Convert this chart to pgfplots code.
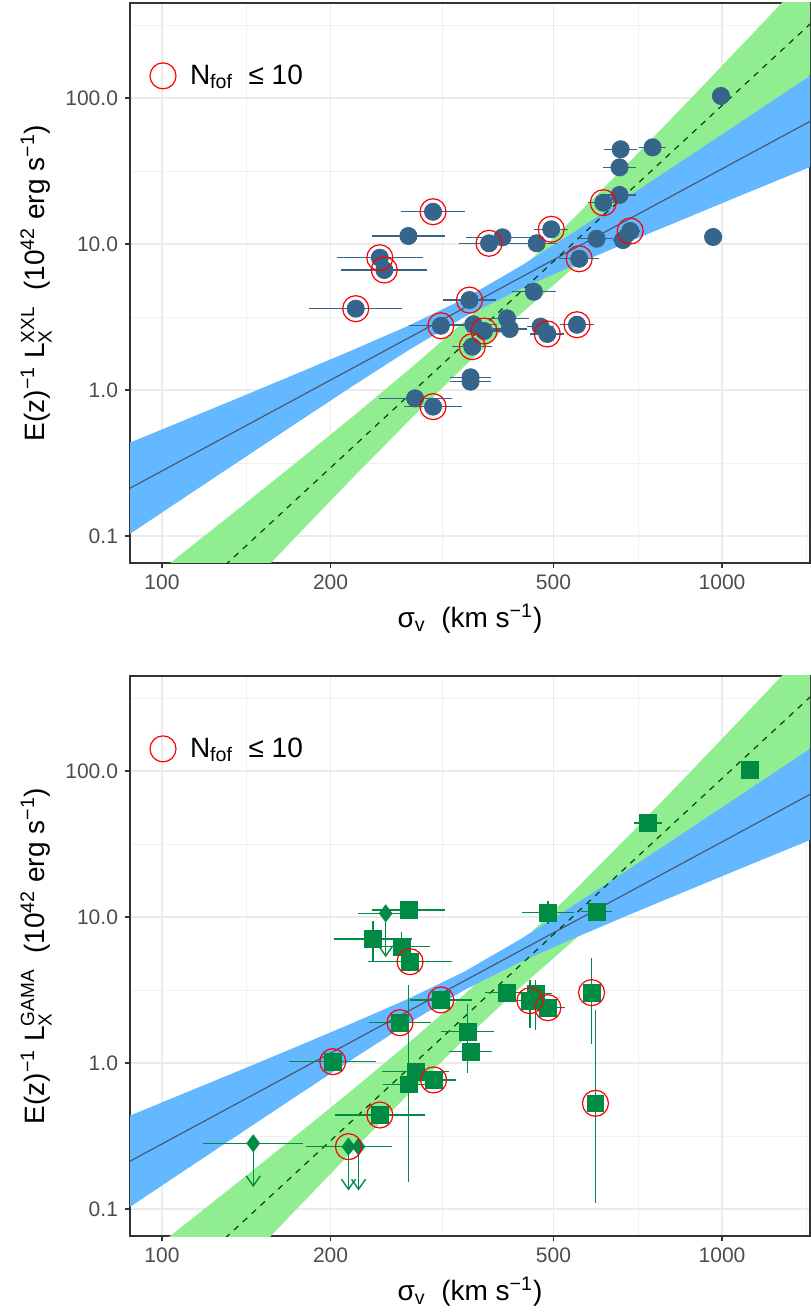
\documentclass[border=0pt]{standalone}
\usepackage{pgfplots}
\pgfplotsset{compat=1.18}
\usepackage{pgfplotstable}
\usepackage{fontspec}
\setmainfont{Liberation Sans}
\usetikzlibrary{arrows.meta}
\definecolor{ptblue}{RGB}{54,100,139}
\definecolor{bandblue}{RGB}{99,184,255}
\definecolor{bandgreen}{RGB}{144,238,144}
\definecolor{ptgreen}{RGB}{0,139,69}
\definecolor{lineblue}{RGB}{70,90,120}

\pgfplotstableread{
x y ex
2.819 1.649 0.030
2.876 1.662 0.024
2.817 1.525 0.029
2.817 1.336 0.029
2.788 1.283 0.027
2.484 1.221 0.057
2.440 1.055 0.065
2.608 1.046 0.065
2.584 1.005 0.054
2.669 1.005 0.036
2.695 1.101 0.030
2.776 1.036 0.030
2.823 1.027 0.018
2.836 1.089 0.018
2.389 0.906 0.077
2.397 0.822 0.077
2.745 0.899 0.036
2.346 0.557 0.083
2.549 0.616 0.048
2.664 0.673 0.039
2.498 0.440 0.057
2.556 0.450 0.042
2.575 0.404 0.030
2.616 0.491 0.039
2.621 0.418 0.030
2.676 0.434 0.024
2.688 0.384 0.030
2.741 0.447 0.030
2.554 0.297 0.036
2.551 0.087 0.036
2.551 0.057 0.036
2.452 -0.057 0.065
2.484 -0.114 0.051
2.998 2.014 0.015
2.984 1.048 0.010
}\xxl

\pgfplotstableread{
x y ex eym eyp
2.4405 1.048 0.065 0 0
2.377 0.849 0.07 0.155 0.126
2.428 0.797 0.05 0.1 0.1
2.443 0.694 0.075 0 0
2.498 0.432 0.055 0.04 0.04
2.616 0.482 0.04 0 0
2.667 0.477 0.03 0.25 0.09
2.657 0.427 0.03 0.19 0.14
2.689 0.379 0.03 0 0
2.546 0.214 0.047 0.28 0.19
2.551 0.077 0.038 0 0
2.425 0.276 0.055 0 0
2.305 0.009 0.078 0 0
2.453 -0.060 0.06 0 0
2.485 -0.116 0.04 0 0
2.4405 -0.146 0.045 0.67 0.68
2.389 -0.356 0.08 0 0
2.767 0.482 0.015 0.35 0.235
2.774 -0.276 0.015 0.685 0.64
2.689 1.030 0.047 0.08 0.08
2.776 1.036 0.027 0 0
3.050 2.007 0.012 0 0
2.868 1.644 0.025 0 0
}\gama

\pgfplotstableread{
x y ex
2.3995 1.025 0.05
2.163 -0.55 0.089
2.333 -0.573 0.076
2.351 -0.573 0.06
}\gamalim

\pgfplotsset{
  panel/.style={
    width=340pt, height=280pt, scale only axis,
    xmin=1.943, xmax=3.157, ymin=-1.185, ymax=2.651,
    xtick={2,2.30103,2.69897,3}, xticklabels={100,200,500,1000},
    ytick={-1,0,1,2}, yticklabels={0.1,1.0,10.0,100.0},
    minor xtick={2.15,2.5,2.85,3.15}, minor ytick={-0.5,0.5,1.5,2.5},
    xtick pos=bottom, ytick pos=left,
    grid=both,
    major grid style={line width=0.7pt, color=black!8},
    minor grid style={line width=0.4pt, color=black!6},
    tick align=outside, major tick length=2.5pt, minor tick length=0pt,
    tick style={black!80, line width=0.6pt},
    axis line style={black!80, line width=0.6pt},
    ticklabel style={font=\fontsize{10.5}{12}\selectfont, text=black!70},
    label style={font=\fontsize{14}{16}\selectfont},
    xlabel={σ\textsubscript{v}\ \ (km s\textsuperscript{−1})},
    legend style={draw=none, fill=none, at={(0.02,0.905)}, anchor=north west,
      font=\fontsize{14}{16}\selectfont},
    legend cell align=left,
  },
}

\newcommand{\bands}{%
  \addplot[fill=bandgreen, draw=none, forget plot] coordinates {
    (1.94,-1.412) (2.04,-1.108) (2.14,-0.804) (2.24,-0.496) (2.34,-0.184) (2.44,0.136)
    (2.54,0.470) (2.64,0.823) (2.74,1.196) (2.84,1.583) (2.94,1.980) (3.04,2.382) (3.16,2.868)
    (3.16,2.166) (3.04,1.800) (2.94,1.492) (2.84,1.179) (2.74,0.856) (2.64,0.519) (2.54,0.162)
    (2.44,-0.214) (2.34,-0.604) (2.24,-1.002) (2.14,-1.404) (2.04,-1.810) (1.94,-2.216)} --cycle;
  \addplot[fill=bandblue, draw=none, forget plot] coordinates {
    (1.94,-0.365) (2.04,-0.207) (2.14,-0.049) (2.24,0.111) (2.34,0.273) (2.44,0.440)
    (2.54,0.626) (2.64,0.848) (2.74,1.092) (2.84,1.344) (2.94,1.598) (3.04,1.853) (3.16,2.160)
    (3.16,1.532) (3.04,1.343) (2.94,1.184) (2.84,1.025) (2.74,0.862) (2.64,0.692) (2.54,0.500)
    (2.44,0.272) (2.34,0.026) (2.24,-0.227) (2.14,-0.482) (2.04,-0.737) (1.94,-0.993)} --cycle;
  \addplot[lineblue, line width=0.6pt, forget plot] coordinates {(1.94,-0.679) (3.16,1.846)};
  \addplot[black!60!green!70!black, dashed, line width=0.6pt, forget plot] coordinates {(1.94,-1.814) (3.16,2.517)};
}

\begin{document}
\begin{tikzpicture}
\path[use as bounding box] (0,0) rectangle (405pt,656pt);
\begin{axis}[panel, at={(65pt,654.5pt)}, anchor=north west,
  ylabel={E(z)\textsuperscript{−1} L$^{\mbox{\fontsize{9.5}{10}\selectfont XXL}}_{\mbox{\fontsize{9.5}{10}\selectfont X}}$\ \ (10\textsuperscript{42} erg s\textsuperscript{−1})}]
\addlegendimage{only marks, mark=o, red, mark size=6.5pt, mark options={line width=0.6pt}}
\addlegendentry{\hspace{5pt}N\textsubscript{fof}\ \ ≤ 10}
\bands
\addplot[only marks, mark=*, ptblue, mark size=4.3pt, forget plot,
  error bars/.cd, x dir=both, x explicit, error mark=none,
  error bar style={ptblue, line width=0.7pt}]
  table[x=x, y=y, x error=ex] {\xxl};
\addplot[only marks, mark=o, red, mark size=6.5pt, mark options={line width=0.6pt}, forget plot] coordinates {
(2.788,1.283) (2.484,1.221) (2.584,1.005) (2.695,1.101) (2.836,1.089) (2.389,0.906)
(2.397,0.822) (2.745,0.899) (2.346,0.557) (2.549,0.616) (2.498,0.440) (2.575,0.404)
(2.688,0.384) (2.741,0.447) (2.554,0.297) (2.484,-0.114)};
\end{axis}

\begin{axis}[panel, at={(65pt,318pt)}, anchor=north west,
  ylabel={E(z)\textsuperscript{−1} L$^{\mbox{\fontsize{9.5}{10}\selectfont GAMA}}_{\mbox{\fontsize{9.5}{10}\selectfont X}}$\ \ (10\textsuperscript{42} erg s\textsuperscript{−1})}]
\addlegendimage{only marks, mark=o, red, mark size=6.5pt, mark options={line width=0.6pt}}
\addlegendentry{\hspace{5pt}N\textsubscript{fof}\ \ ≤ 10}
\bands
\addplot[only marks, mark=square*, ptgreen, mark size=4.2pt, forget plot,
  error bars/.cd, x dir=both, x explicit, y dir=both, y explicit, error mark=none,
  error bar style={ptgreen, line width=0.7pt}]
  table[x=x, y=y, x error=ex, y error plus=eyp, y error minus=eym] {\gama};
\addplot[ptgreen, line width=0.7pt, forget plot, -{Straight Barb[length=5pt,width=7pt]},
  quiver={u=0, v=-0.30}] table[x=x, y=y] {\gamalim};
\addplot[only marks, mark=diamond*, ptgreen, mark size=4.2pt, forget plot,
  error bars/.cd, x dir=both, x explicit, error mark=none,
  error bar style={ptgreen, line width=0.7pt}]
  table[x=x, y=y, x error=ex] {\gamalim};
\addplot[only marks, mark=o, red, mark size=6.5pt, mark options={line width=0.6pt}, forget plot] coordinates {
(2.443,0.694) (2.498,0.432) (2.657,0.427) (2.689,0.379) (2.425,0.276) (2.305,0.009)
(2.485,-0.116) (2.389,-0.356) (2.767,0.482) (2.774,-0.276) (2.333,-0.573)};
\end{axis}
\end{tikzpicture}
\end{document}
